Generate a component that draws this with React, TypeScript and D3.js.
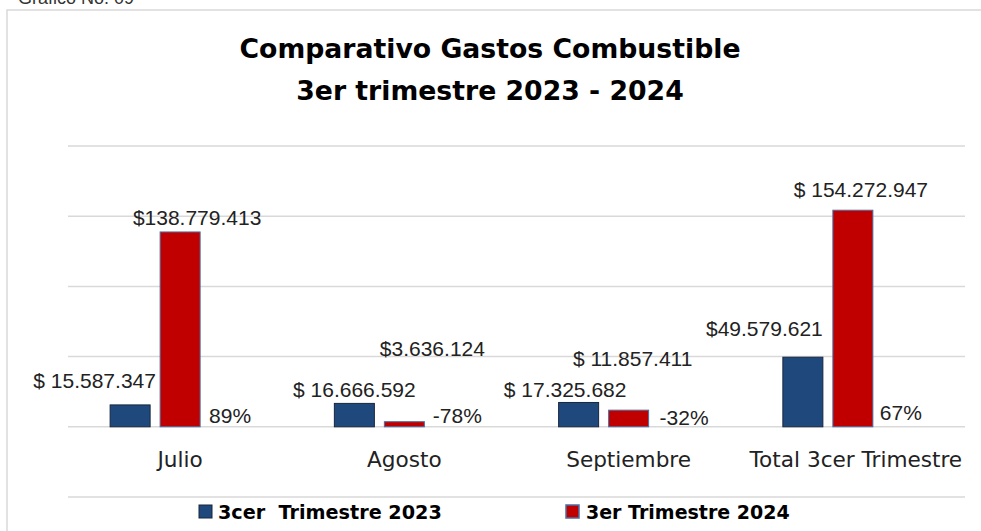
import * as d3 from 'd3';
import React from 'react';

const categories = ['Julio', 'Agosto', 'Septiembre', 'Total 3cer Trimestre'];
const series2023 = [15587347, 16666592, 17325682, 49579621];
const series2024 = [138779413, 3636124, 11857411, 154272947];
const variation = ['89%', '-78%', '-32%', '67%'];
const label2023 = ['$ 15.587.347', '$ 16.666.592', '$ 17.325.682', '$49.579.621'];
const label2024 = ['$138.779.413', '$3.636.124', '$ 11.857.411', '$ 154.272.947'];
const seriesNames = ['3cer  Trimestre 2023', '3er Trimestre 2024'];
const yTicks = [-50e6, 0, 50e6, 100e6, 150e6, 200e6];

// layout: manual label offsets (dx, dy) from bar top-centre, as placed in the original
const off2023 = [[-35.5, -17], [0, -6], [-13.5, -5.5], [-38.5, -21]];
const off2024 = [[17, -7], [28, -66], [4, -44], [8, -13]];
const offPct = [[0, -4], [3, -4], [5.5, -2], [-2, -7]];

const W = 981;
const H = 531;
const BLUE = '#1F497D';
const RED = '#C00000';
const NUM_FONT = '"Liberation Sans", Arial, sans-serif';
const TXT_FONT = '"DejaVu Sans", sans-serif';

export default function App() {
  const x0 = d3.scaleBand<string>().domain(categories).range([68, 965]).paddingInner(0.331).paddingOuter(0.1655);
  const x1 = d3.scaleBand<string>().domain(['a', 'b', 'c']).range([0, x0.bandwidth()]).paddingInner(0.2).paddingOuter(0.1);
  const y = d3.scaleLinear().domain([-50e6, 200e6]).range([497, 146]);
  const bw = x1.bandwidth();

  return (
    <svg width={W} height={H} style={{ position: 'absolute', left: 0, top: 0, background: '#fff' }}>
      <text x={18} y={4} fontFamily={NUM_FONT} fontSize={18} fill="#333">Gráfico No. 09</text>
      <rect x={7} y={10} width={1000} height={600} fill="none" stroke="#d9d9d9" strokeWidth={1.5} />

      <text x={490} y={58} textAnchor="middle" fontFamily={TXT_FONT} fontWeight="bold" fontSize={26.7} fill="#000">Comparativo Gastos Combustible</text>
      <text x={490} y={100} textAnchor="middle" fontFamily={TXT_FONT} fontWeight="bold" fontSize={26.7} fill="#000">3er trimestre 2023 - 2024</text>

      {yTicks.map((t) => (
        <line key={t} x1={68} x2={965} y1={y(t)} y2={y(t)} stroke="#d9d9d9" strokeWidth={1.5} />
      ))}

      {categories.map((c, i) => {
        const bx = x0(c)!;
        const xa = bx + x1('a')!;
        const xb = bx + x1('b')!;
        const xc = bx + x1('c')!;
        return (
          <g key={c}>
            <rect x={xa} y={y(series2023[i])} width={bw} height={y(0) - y(series2023[i])} fill={BLUE} stroke="#17273d" strokeWidth={1} />
            <rect x={xb} y={y(series2024[i])} width={bw} height={y(0) - y(series2024[i])} fill={RED} stroke="#4a6fa5" strokeWidth={1} />
            <text x={xa + bw / 2 + off2023[i][0]} y={y(series2023[i]) + off2023[i][1]} textAnchor="middle" fontFamily={NUM_FONT} fontSize={21} fill="#222">{label2023[i]}</text>
            <text x={xb + bw / 2 + off2024[i][0]} y={y(series2024[i]) + off2024[i][1]} textAnchor="middle" fontFamily={NUM_FONT} fontSize={21} fill="#222">{label2024[i]}</text>
            <text x={xc + bw / 2 + offPct[i][0]} y={y(0) + offPct[i][1]} textAnchor="middle" fontFamily={NUM_FONT} fontSize={21} fill="#222">{variation[i]}</text>
            <text x={bx + x0.bandwidth() / 2 + (i === 3 ? 3 : 0)} y={467} textAnchor="middle" fontFamily={TXT_FONT} fontSize={21.6} fill="#222">{c}</text>
          </g>
        );
      })}

      <g>
        <rect x={199} y={505} width={13} height={13} fill={BLUE} stroke="#17273d" strokeWidth={1} />
        <text x={218} y={519} fontFamily={TXT_FONT} fontWeight="bold" fontSize={19.2} fill="#000" style={{ whiteSpace: 'pre' }}>{seriesNames[0]}</text>
        <rect x={566} y={505} width={13} height={13} fill={RED} stroke="#4a6fa5" strokeWidth={1.5} />
        <text x={586} y={519} fontFamily={TXT_FONT} fontWeight="bold" fontSize={19} fill="#000" style={{ whiteSpace: 'pre' }}>{seriesNames[1]}</text>
      </g>
    </svg>
  );
}
